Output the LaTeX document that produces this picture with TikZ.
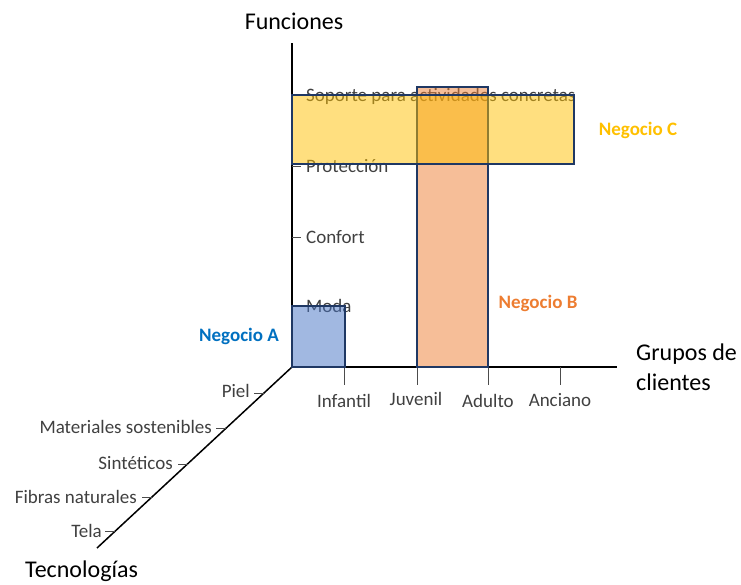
\documentclass[tikz,border=0pt]{standalone}
\usepackage{fontspec}
\setmainfont{Carlito}
\definecolor{boxline}{HTML}{1F3864}
\definecolor{negA}{HTML}{4472C4}
\definecolor{negB}{HTML}{ED7D31}
\definecolor{negC}{HTML}{FFC000}
\definecolor{negAtext}{HTML}{0070C0}

\begin{document}
\begin{tikzpicture}[
            x=1pt, y=-1pt,
            axis/.style={line width=1.5pt, black},
            tickmark/.style={line width=0.9pt, black!70},
            ticklabel/.style={inner sep=0pt, text=black!75, font=\fontsize{19}{22}\selectfont},
            axislabel/.style={inner sep=0pt, text=black, font=\fontsize{24}{29.5}\selectfont},
            negociolabel/.style={inner sep=0pt, text=#1, font=\fontsize{19}{22}\selectfont\bfseries},
            negociobox/.style={draw=boxline, line width=1.5pt, fill=#1, fill opacity=0.5}
        ]
        \useasboundingbox (0,0) rectangle (741,584);

        \coordinate (origin) at (292,367);
        \coordinate (funcionesEnd) at (292,43);
        \coordinate (clientesEnd) at (617,367);
        \coordinate (tecnologiasEnd) at (97,548);

        \draw[axis] (funcionesEnd) -- (origin) -- (clientesEnd);
        \draw[axis] (origin) -- (tecnologiasEnd);

        \node(funciones)[axislabel, anchor=base] at (294,29) {Funciones};
        \node(clientes)[axislabel, anchor=base west, align=left] at (636,390) {Grupos de\\clientes};
        \node(tecnologias)[axislabel, anchor=base west] at (25,577) {Tecnologías};

        % funciones
        \draw[tickmark] (292,95) -- (301,95);
        \draw[tickmark] (292,166) -- (301,166);
        \draw[tickmark] (292,237) -- (301,237);
        \draw[tickmark] (292,306) -- (301,306);
        \node(soporte)[ticklabel, anchor=base west] at (306,101) {Soporte para actividades concretas};
        \node(proteccion)[ticklabel, anchor=base west] at (306,172) {Protección};
        \node(confort)[ticklabel, anchor=base west] at (306,243) {Confort};
        \node(moda)[ticklabel, anchor=base west] at (306,312) {Moda};

        % grupos de clientes
        \draw[tickmark] (344,367) -- (344,385);
        \draw[tickmark] (417,367) -- (417,385);
        \draw[tickmark] (488,367) -- (488,385);
        \draw[tickmark] (560,367) -- (560,385);
        \node(infantil)[ticklabel, anchor=base] at (344,407) {Infantil};
        \node(juvenil)[ticklabel, anchor=base] at (416,405) {Juvenil};
        \node(adulto)[ticklabel, anchor=base] at (488,407) {Adulto};
        \node(anciano)[ticklabel, anchor=base] at (560,406) {Anciano};

        % tecnologias
        \draw[tickmark] (254,393) -- (264,393);
        \draw[tickmark] (216,428) -- (226,428);
        \draw[tickmark] (178,464) -- (188,464);
        \draw[tickmark] (142,497) -- (152,497);
        \draw[tickmark] (105,531) -- (115,531);
        \node(piel)[ticklabel, anchor=base east] at (250,397) {Piel};
        \node(materiales)[ticklabel, anchor=base east] at (212,433) {Materiales sostenibles};
        \node(sinteticos)[ticklabel, anchor=base east] at (173,469) {Sintéticos};
        \node(fibras)[ticklabel, anchor=base east] at (137,503) {Fibras naturales};
        \node(tela)[ticklabel, anchor=base east] at (102,537) {Tela};

        % negocios
        \draw[negociobox=negA] (292,306) rectangle (345,367);
        \draw[negociobox=negB] (417,87) rectangle (488,367);
        \draw[negociobox=negC] (292,95) rectangle (574,164);
        \node(negocioA)[negociolabel=negAtext, anchor=base] at (239,341) {Negocio A};
        \node(negocioB)[negociolabel=negB, anchor=base] at (538,308) {Negocio B};
        \node(negocioC)[negociolabel=negC, anchor=base] at (638,135) {Negocio C};
    \end{tikzpicture}
\end{document}
